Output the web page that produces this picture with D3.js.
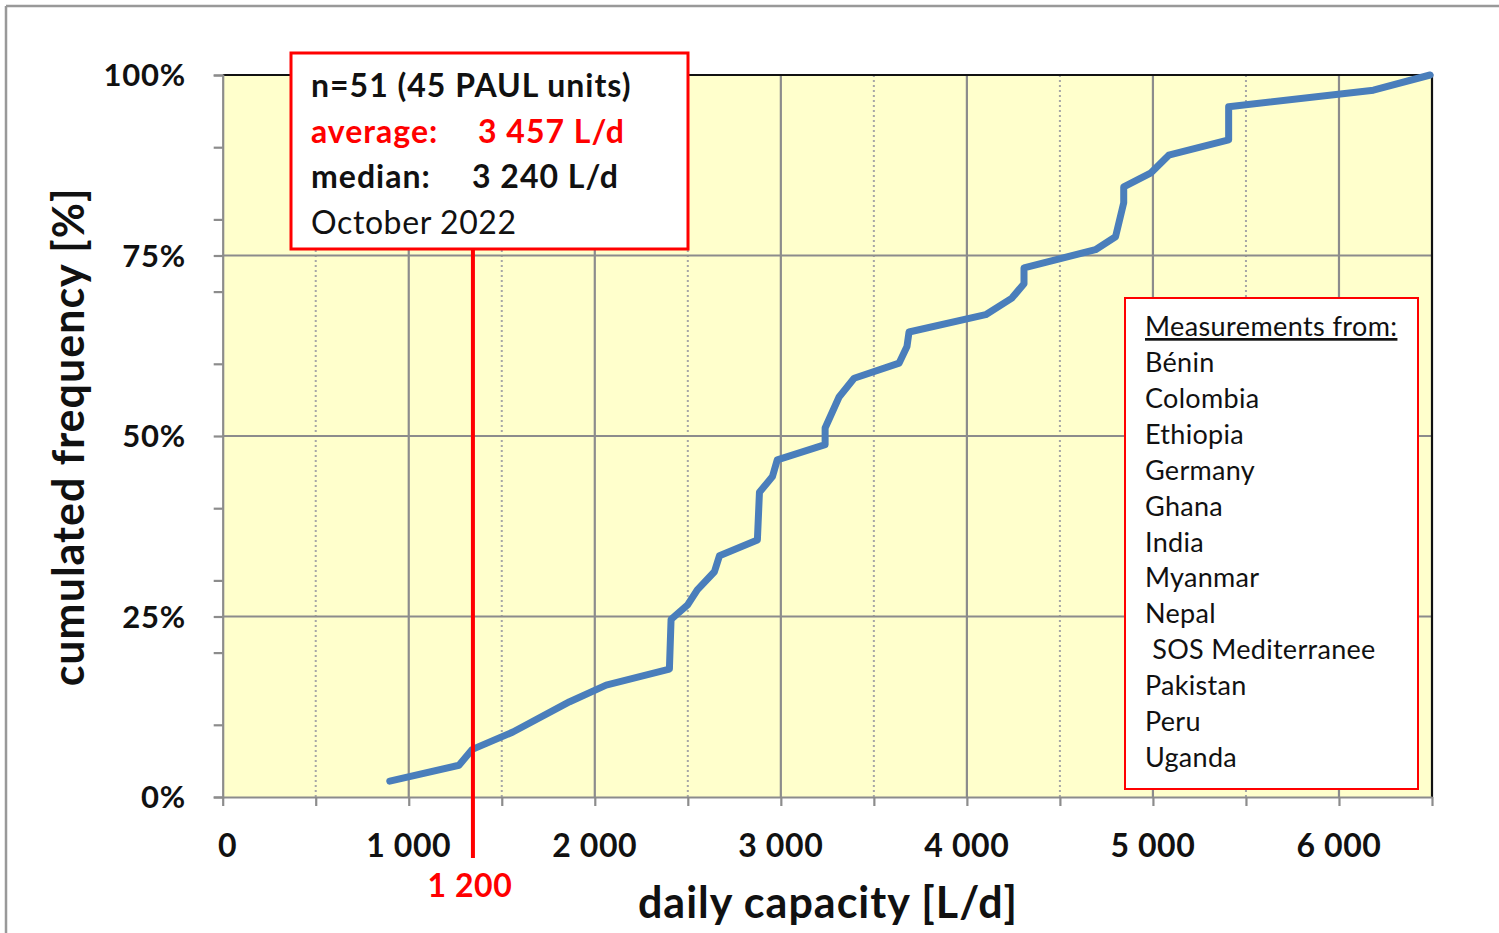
<!DOCTYPE html>
<html>
<head>
<meta charset="utf-8">
<script src="https://cdn.jsdelivr.net/npm/d3@7"></script>
<style>
  body { margin: 0; background: #fff; }
  text { font-family: Lato, "Open Sans", sans-serif; }
</style>
</head>
<body>
<svg id="chart" width="1499" height="933"></svg>
<script>
// ===== data =====
const capacity = [898, 1270, 1342, 1560, 1865, 2061, 2401, 2410, 2499, 2551, 2643, 2670, 2874, 2885, 2955, 2981,
	3238, 3238, 3313, 3394, 3636, 3678, 3689, 4101, 4242, 4307, 4307, 4691, 4799, 4843, 4843, 4987, 5085,
	5407, 5407, 6185, 6490];
const cumFreq = [2.2, 4.4, 6.6, 9.0, 13.2, 15.5, 17.7, 24.6, 26.6, 28.7, 31.2, 33.4, 35.6, 42.2, 44.4, 46.7,
	48.8, 51.1, 55.4, 58.0, 60.1, 62.4, 64.4, 66.8, 69.1, 71.1, 73.3, 75.8, 77.6, 82.3, 84.5, 86.4, 88.9,
	91.0, 95.6, 97.9, 100];

const xTicks = [0, 1000, 2000, 3000, 4000, 5000, 6000];
const xTickLabels = ["0", "1 000", "2 000", "3 000", "4 000", "5 000", "6 000"];
const xMinor = [500, 1500, 2500, 3500, 4500, 5500, 6500];
const yTicks = [0, 25, 50, 75, 100];
const yTickLabels = ["0%", "25%", "50%", "75%", "100%"];
const yMinor = [10, 20, 30, 40, 60, 70, 80, 90];

const limitValue = 1345;     // position of the red marker line
const limitLabel = "1 200";

const infoLines = [
	{ label: "n=51 (45 PAUL units)", value: "", color: "#111", bold: true },
	{ label: "average:", value: "3 457 L/d", color: "#ff0000", bold: true },
	{ label: "median:", value: "3 240 L/d", color: "#111", bold: true },
	{ label: "October 2022", value: "", color: "#111", bold: false }
];
const countries = ["Bénin", "Colombia", "Ethiopia", "Germany", "Ghana", "India", "Myanmar", "Nepal",
	" SOS Mediterranee", "Pakistan", "Peru", "Uganda"];

// ===== layout =====
const svg = d3.select("#chart");
const margin = { left: 222.7, top: 75, right: 1432, bottom: 797 };

// outer frame (top and left only visible)
svg.append("line").attr("x1", 6).attr("x2", 1499).attr("y1", 6).attr("y2", 6)
	.attr("stroke", "#999").attr("stroke-width", 2.5);
svg.append("line").attr("x1", 6).attr("x2", 6).attr("y1", 6).attr("y2", 933)
	.attr("stroke", "#999").attr("stroke-width", 2.5);

const x = d3.scaleLinear().domain([0, 6500]).range([margin.left, margin.right]);
const y = d3.scaleLinear().domain([0, 100]).range([margin.bottom, margin.top]);

// plot background
svg.append("rect")
	.attr("x", x(0)).attr("y", y(100))
	.attr("width", x(6500) - x(0)).attr("height", y(0) - y(100))
	.attr("fill", "#ffffcc");

// minor dotted grid
svg.selectAll(".vminor").data(xMinor).enter().append("line")
	.attr("x1", d => x(d)).attr("x2", d => x(d))
	.attr("y1", y(0)).attr("y2", y(100))
	.attr("stroke", "#a6a6a6").attr("stroke-width", 2).attr("stroke-dasharray", "2,3");

// major grid
svg.selectAll(".vmajor").data(xTicks.slice(1)).enter().append("line")
	.attr("x1", d => x(d)).attr("x2", d => x(d))
	.attr("y1", y(0)).attr("y2", y(100))
	.attr("stroke", "#8c8c8c").attr("stroke-width", 2.2);
svg.selectAll(".hmajor").data([25, 50, 75]).enter().append("line")
	.attr("x1", x(0)).attr("x2", x(6500))
	.attr("y1", d => y(d)).attr("y2", d => y(d))
	.attr("stroke", "#8c8c8c").attr("stroke-width", 2.2);

// top + right border (black)
svg.append("path")
	.attr("d", `M${x(0)},${y(100)}H${x(6500)}V${y(0)}`)
	.attr("fill", "none").attr("stroke", "#111").attr("stroke-width", 2.2);

// Y axis
const yAxis = svg.append("g")
	.attr("transform", `translate(${x(0)},0)`)
	.call(d3.axisLeft(y).tickValues(yTicks.concat(yMinor)).tickSize(9).tickFormat(""));
yAxis.selectAll("path, line").attr("stroke", "#8c8c8c").attr("stroke-width", 2.2);
svg.selectAll(".ylab").data(yTicks).enter().append("text")
	.attr("x", 186).attr("y", d => y(d))
	.attr("dy", "0.36em")
	.attr("text-anchor", "end")
	.style("font-size", "31px").style("font-weight", "bold").style("fill", "#111")
	.style("letter-spacing", "0.8px")
	.text((d, i) => yTickLabels[i]);

// X axis
const xAxis = svg.append("g")
	.attr("transform", `translate(0,${y(0)})`)
	.call(d3.axisBottom(x).tickValues(xTicks.concat(xMinor)).tickSize(9).tickSizeOuter(0).tickFormat(""));
xAxis.selectAll("path, line").attr("stroke", "#8c8c8c").attr("stroke-width", 2.2);
svg.selectAll(".xlab").data(xTicks).enter().append("text")
	.attr("x", d => x(d) + (d === 0 ? 5 : 0)).attr("y", 857)
	.attr("text-anchor", "middle")
	.style("font-size", "32px").style("font-weight", "bold").style("fill", "#111")
	.style("letter-spacing", "0.6px")
	.text((d, i) => xTickLabels[i]);

// axis titles
svg.append("text")
	.attr("x", 828).attr("y", 918)
	.attr("text-anchor", "middle")
	.style("font-size", "43px").style("font-weight", "bold").style("fill", "#111")
	.style("letter-spacing", "1px")
	.text("daily capacity [L/d]");
svg.append("text")
	.attr("transform", "translate(84,437) rotate(-90)")
	.attr("text-anchor", "middle")
	.style("font-size", "43px").style("font-weight", "bold").style("fill", "#111")
	.style("letter-spacing", "1px")
	.text("cumulated frequency [%]");

// cumulative curve
const line = d3.line().x(d => x(d[0])).y(d => y(d[1]));
svg.append("path")
	.datum(capacity.map((c, i) => [c, cumFreq[i]]))
	.attr("d", line)
	.attr("fill", "none")
	.attr("stroke", "#4a7ebb")
	.attr("stroke-width", 7)
	.attr("stroke-linejoin", "round")
	.attr("stroke-linecap", "round");

// red marker line
svg.append("line")
	.attr("x1", x(limitValue)).attr("x2", x(limitValue))
	.attr("y1", 250).attr("y2", 858)
	.attr("stroke", "#ff0000").attr("stroke-width", 4);
svg.append("text")
	.attr("x", x(limitValue) - 3).attr("y", 897)
	.attr("text-anchor", "middle")
	.style("font-size", "32px").style("font-weight", "bold").style("fill", "#ff0000")
	.style("letter-spacing", "0.6px")
	.text(limitLabel);

// info box
svg.append("rect")
	.attr("x", 291).attr("y", 53).attr("width", 397).attr("height", 196)
	.attr("fill", "#fff").attr("stroke", "#ff0000").attr("stroke-width", 3);
const info = svg.selectAll(".info").data(infoLines).enter().append("g");
info.append("text")
	.attr("x", 311).attr("y", (d, i) => 97 + i * 45.7)
	.style("font-size", "32px")
	.style("font-weight", d => d.bold ? "bold" : "normal")
	.style("letter-spacing", d => d.bold ? "1px" : "0.6px")
	.style("fill", d => d.color)
	.text(d => d.label);
info.append("text")
	.attr("x", (d, i) => i === 1 ? 478 : 472).attr("y", (d, i) => 97 + i * 45.7)
	.style("font-size", "32px").style("font-weight", "bold")
	.style("letter-spacing", "1px")
	.style("fill", d => d.color)
	.text(d => d.value);

// legend box
svg.append("rect")
	.attr("x", 1125).attr("y", 298).attr("width", 293).attr("height", 491)
	.attr("fill", "#fff").attr("stroke", "#ff0000").attr("stroke-width", 2);
svg.append("text")
	.attr("x", 1145).attr("y", 336)
	.style("font-size", "27px").style("fill", "#111")
	.style("letter-spacing", "0.4px")
	.style("text-decoration", "underline")
	.text("Measurements from:");
svg.selectAll(".country").data(countries).enter().append("text")
	.attr("x", 1145).attr("y", (d, i) => 372 + i * 35.9)
	.attr("xml:space", "preserve")
	.style("white-space", "pre")
	.style("font-size", "27px").style("fill", "#111")
	.style("letter-spacing", "0.3px")
	.text(d => d);
</script>
</body>
</html>
